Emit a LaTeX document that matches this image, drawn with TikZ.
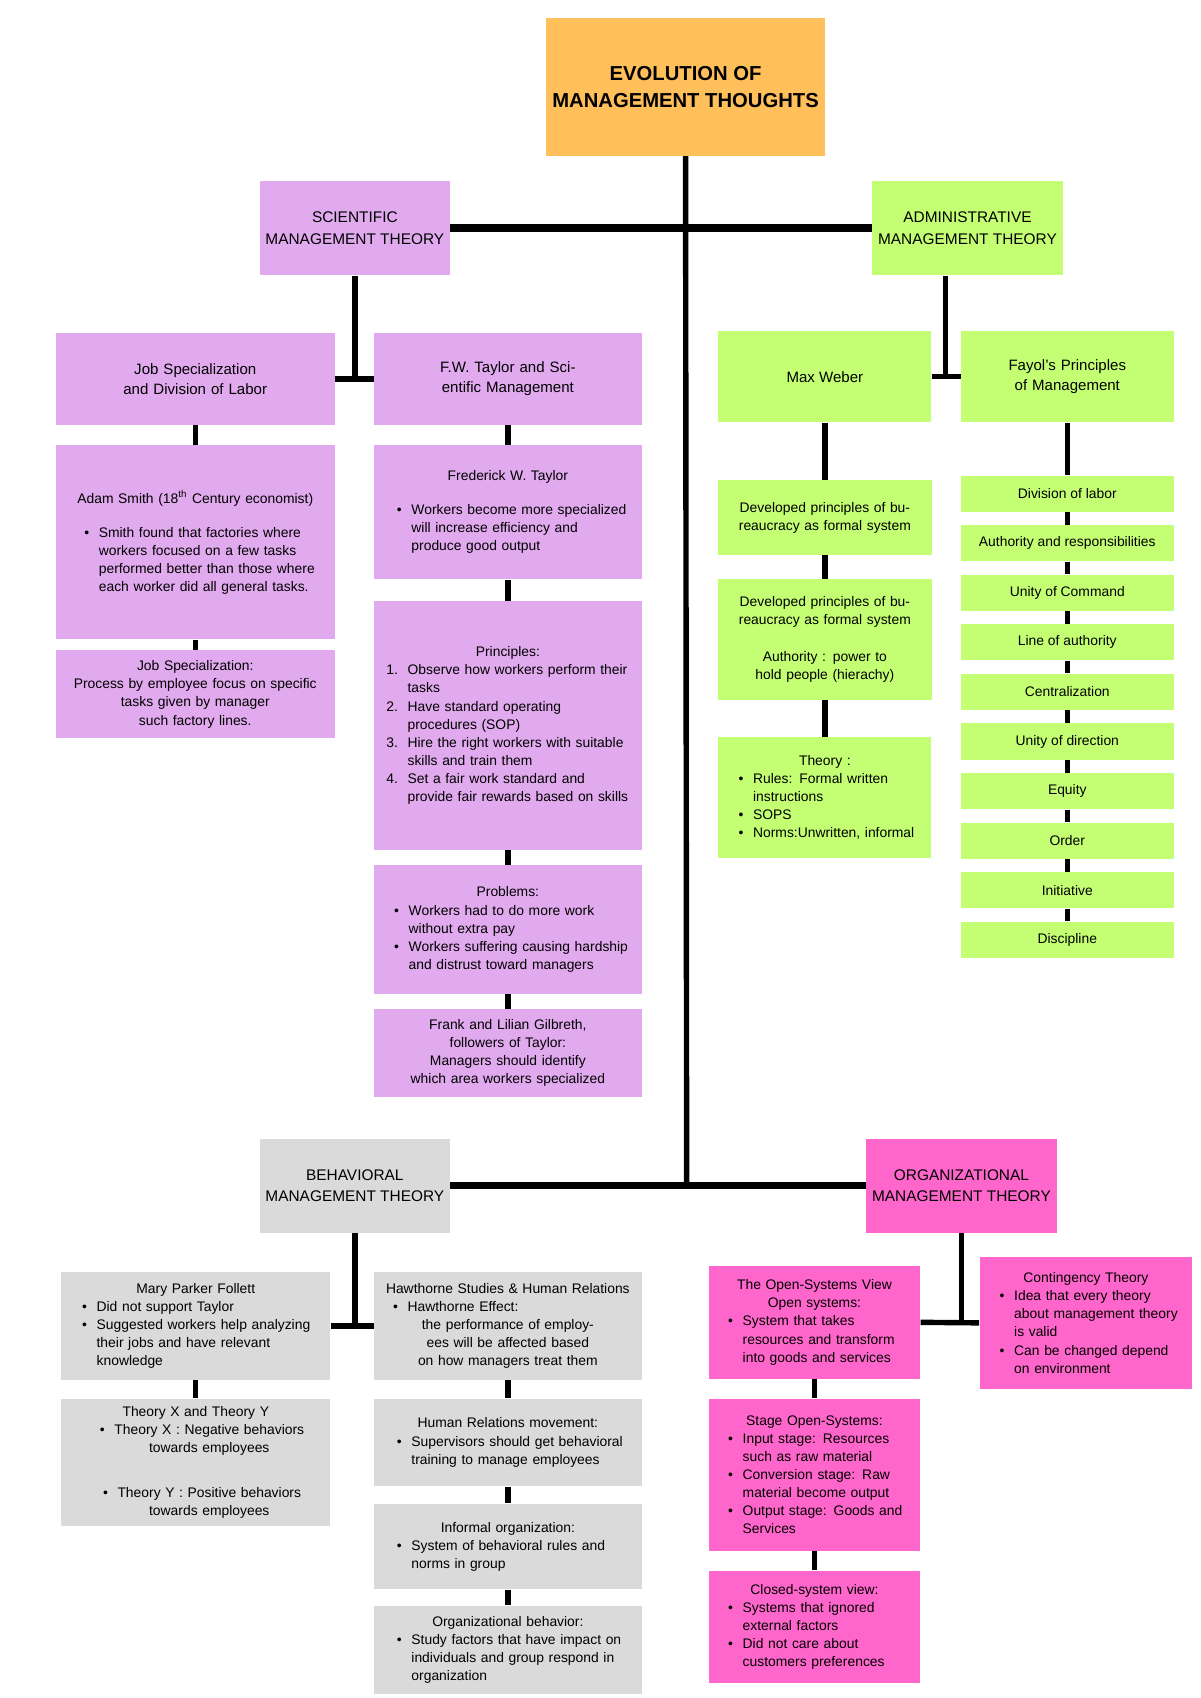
\documentclass[tikz,border=0pt]{standalone}
\usepackage{fontspec}
\setmainfont{Liberation Sans}
\usepackage{enumitem}
\usetikzlibrary{positioning, calc}
\definecolor{TitleOrange}{HTML}{FFBF5A}
\definecolor{SciPink}{HTML}{E2AAEE}
\definecolor{AdmGreen}{HTML}{C4FF73}
\definecolor{BehGrey}{HTML}{DADADA}
\definecolor{OrgPink}{HTML}{FF66CC}
\setlist[itemize]{leftmargin=14pt, nosep, label=\textbullet}
\tikzset{
  box/.style={rectangle, align=center, inner sep=3pt, font=\fontsize{7.2}{9.4}\selectfont},
  conn/.style={line width=2.8pt, black},
  bar/.style={line width=3.8pt, black}
}
\begin{document}
\begin{tikzpicture}[x=0.02cm, y=-0.02cm]
    \useasboundingbox (0,0) rectangle (1094,1548);

    % top
    \node[box, fill=TitleOrange, minimum width=254*0.02cm, minimum height=126*0.02cm,
          font=\fontsize{10.5}{14}\selectfont\bfseries] (title) at (625,79)
          {EVOLUTION OF\\MANAGEMENT THOUGHTS};
    \node[box, fill=SciPink, minimum width=173*0.02cm, minimum height=86*0.02cm,
          font=\fontsize{8}{11}\selectfont] (sci) at (323.5,208) {SCIENTIFIC\\MANAGEMENT THEORY};
    \node[box, fill=AdmGreen, minimum width=172*0.02cm, minimum height=86*0.02cm,
          font=\fontsize{8}{11}\selectfont] (adm) at (882,208) {ADMINISTRATIVE\\MANAGEMENT THEORY};
    \node[box, fill=BehGrey, minimum width=173*0.02cm, minimum height=86*0.02cm,
          font=\fontsize{8}{11}\selectfont] (beh) at (323.5,1081) {BEHAVIORAL\\MANAGEMENT THEORY};
    \node[box, fill=OrgPink, minimum width=173*0.02cm, minimum height=86*0.02cm,
          font=\fontsize{8}{11}\selectfont] (org) at (876.5,1081) {ORGANIZATIONAL\\MANAGEMENT THEORY};

    % scientific
    \node[box, fill=SciPink, minimum width=254*0.02cm, minimum height=83*0.02cm, text width=230*0.02cm,
          font=\fontsize{7.8}{10.5}\selectfont] (job) at (178,345.5) {Job Specialization and Division of Labor};
    \node[box, fill=SciPink, minimum width=244*0.02cm, minimum height=83*0.02cm, text width=200*0.02cm,
          font=\fontsize{7.8}{10.5}\selectfont] (taylor) at (463,345.5) {F.W. Taylor and Scientific Management};
    \node[box, fill=SciPink, minimum width=254*0.02cm, minimum height=177*0.02cm, text width=225*0.02cm] (adam) at (178,494.5)
          {Adam Smith (18\textsuperscript{th} Century economist)\\[8pt]
           \begin{itemize}\raggedright
           \item Smith found that factories where workers focused on a few tasks performed better than those where each worker did all general tasks.
           \end{itemize}\vspace{22pt}};
    \node[box, fill=SciPink, minimum width=254*0.02cm, minimum height=80*0.02cm, text width=240*0.02cm] (jobspec) at (178,633)
          {Job Specialization:\\Process by employee focus on specific\\tasks given by manager\\such factory lines.};
    \node[box, fill=SciPink, minimum width=244*0.02cm, minimum height=122*0.02cm, text width=225*0.02cm] (fred) at (463,467)
          {Frederick W. Taylor\\[8pt]
           \begin{itemize}\raggedright
           \item Workers become more specialized will increase efficiency and produce good output
           \end{itemize}};
    \node[box, fill=SciPink, minimum width=244*0.02cm, minimum height=227*0.02cm, text width=225*0.02cm] (princ) at (463,661.5)
          {Principles:
           \begin{enumerate}[leftmargin=12pt, nosep]\raggedright
           \item Observe how workers perform their tasks
           \item Have standard operating procedures (SOP)
           \item Hire the right workers with suitable skills and train them
           \item Set a fair work standard and provide fair rewards based on skills
           \end{enumerate}};
    \node[box, fill=SciPink, minimum width=244*0.02cm, minimum height=117*0.02cm, text width=230*0.02cm] (prob) at (463,847.5)
          {Problems:
           \begin{itemize}\raggedright
           \item Workers had to do more work without extra pay
           \item Workers suffering causing hardship and distrust toward managers
           \end{itemize}};
    \node[box, fill=SciPink, minimum width=244*0.02cm, minimum height=80*0.02cm, text width=230*0.02cm] (gilb) at (463,960)
          {Frank and Lilian Gilbreth, followers of Taylor:\\Managers should identify which area workers specialized};

    % administrative
    \node[box, fill=AdmGreen, minimum width=194*0.02cm, minimum height=83*0.02cm,
          font=\fontsize{7.8}{10.5}\selectfont] (weber) at (752,343.5) {Max Weber};
    \node[box, fill=AdmGreen, minimum width=194*0.02cm, minimum height=83*0.02cm, text width=170*0.02cm,
          font=\fontsize{7.8}{10.5}\selectfont] (fayol) at (973,343.5) {Fayol's Principles of Management};
    \node[box, fill=AdmGreen, minimum width=194*0.02cm, minimum height=68*0.02cm, text width=185*0.02cm] (web1) at (752,472)
          {Developed principles of bureaucracy as formal system};
    \node[box, fill=AdmGreen, minimum width=194*0.02cm, minimum height=110*0.02cm, text width=185*0.02cm] (web2) at (752,583)
          {Developed principles of bureaucracy as formal system\\[10pt]Authority : power to hold people (hierachy)};
    \node[box, fill=AdmGreen, minimum width=194*0.02cm, minimum height=110*0.02cm, text width=180*0.02cm] (web3) at (752,727)
          {Theory :
           \begin{itemize}\raggedright
           \item Rules: Formal written instructions
           \item SOPS
           \item Norms:Unwritten, informal
           \end{itemize}};
    \foreach \lab/\name [count=\i from 0] in {Division of labor/f1, Authority and responsibilities/f2,
        Unity of Command/f3, Line of authority/f4, Centralization/f5, Unity of direction/f6,
        Equity/f7, Order/f8, Initiative/f9, Discipline/f10}
      \node[box, fill=AdmGreen, minimum width=194*0.02cm, minimum height=33*0.02cm] (\name)
        at (973,{450+\i*45.2}) {\lab};

    % behavioral
    \node[box, fill=BehGrey, minimum width=245*0.02cm, minimum height=98*0.02cm, text width=230*0.02cm] (mary) at (178.5,1209)
          {Mary Parker Follett
           \begin{itemize}\raggedright
           \item Did not support Taylor
           \item Suggested workers help analyzing their jobs and have relevant knowledge
           \end{itemize}};
    \node[box, fill=BehGrey, minimum width=244*0.02cm, minimum height=98*0.02cm, text width=232*0.02cm] (haw) at (463,1209)
          {Hawthorne Studies \& Human Relations
           \begin{itemize}\raggedright
           \item Hawthorne Effect:
           \end{itemize}\raggedright
           the performance of employees will be affected based on how managers treat them};
    \node[box, fill=BehGrey, minimum width=245*0.02cm, minimum height=116*0.02cm, text width=230*0.02cm] (xy) at (178.5,1333)
          {Theory X and Theory Y
           \begin{itemize}
           \item \centering Theory X : Negative behaviors towards employees\par\vspace{14pt}
           \item \centering Theory Y : Positive behaviors towards employees
           \end{itemize}};
    \node[box, fill=BehGrey, minimum width=244*0.02cm, minimum height=80*0.02cm, text width=225*0.02cm] (hr) at (463,1315)
          {Human Relations movement:
           \begin{itemize}\raggedright
           \item Supervisors should get behavioral training to manage employees
           \end{itemize}};
    \node[box, fill=BehGrey, minimum width=244*0.02cm, minimum height=78*0.02cm, text width=225*0.02cm] (inf) at (463,1410)
          {Informal organization:
           \begin{itemize}\raggedright
           \item System of behavioral rules and norms in group
           \end{itemize}};
    \node[box, fill=BehGrey, minimum width=244*0.02cm, minimum height=80*0.02cm, text width=225*0.02cm] (ob) at (463,1504)
          {Organizational behavior:
           \begin{itemize}\raggedright
           \item Study factors that have impact on individuals and group respond in organization
           \end{itemize}};

    % organizational
    \node[box, fill=OrgPink, minimum width=193*0.02cm, minimum height=103*0.02cm, text width=180*0.02cm] (open) at (742.5,1205.5)
          {The Open-Systems View\\Open systems:
           \begin{itemize}\raggedright
           \item System that takes resources and transform into goods and services
           \end{itemize}};
    \node[box, fill=OrgPink, minimum width=194*0.02cm, minimum height=120*0.02cm, text width=180*0.02cm] (cont) at (990,1206)
          {Contingency Theory
           \begin{itemize}\raggedright
           \item Idea that every theory about management theory is valid
           \item Can be changed depend on environment
           \end{itemize}};
    \node[box, fill=OrgPink, minimum width=193*0.02cm, minimum height=139*0.02cm, text width=180*0.02cm] (stage) at (742.5,1344.5)
          {Stage Open-Systems:
           \begin{itemize}\raggedright
           \item Input stage: Resources such as raw material
           \item Conversion stage: Raw material become output
           \item Output stage: Goods and Services
           \end{itemize}};
    \node[box, fill=OrgPink, minimum width=193*0.02cm, minimum height=102*0.02cm, text width=180*0.02cm] (closed) at (742.5,1483)
          {Closed-system view:
           \begin{itemize}\raggedright
           \item Systems that ignored external factors
           \item Did not care about customers preferences
           \end{itemize}};

    % connectors
    \coordinate (trunkend) at (626,1081);
    \draw[conn] (title.south) -- (trunkend);
    \draw[bar] (sci.east) -- (adm.west);
    \draw[bar] (beh.east) -- (org.west);
    \draw[conn] (sci.south) |- (job.east);
    \draw[conn] (job.east) -- (taylor.west);
    \draw[conn] ($(adm.south)+(-20,0)$) |- (weber.east);
    \draw[conn] (weber.east) -- (fayol.west);
    \draw[conn] (beh.south) |- (mary.east);
    \draw[conn] (mary.east) -- (haw.west);
    \draw[conn] (org.south) |- (open.east);
    \draw[conn] (open.east) -- (cont.west);
    \foreach \a/\b in {job/adam, adam/jobspec, taylor/fred, fred/princ, princ/prob, prob/gilb,
        weber/web1, web1/web2, web2/web3, fayol/f1, f1/f2, f2/f3, f3/f4, f4/f5, f5/f6, f6/f7,
        f7/f8, f8/f9, f9/f10, mary/xy, haw/hr, hr/inf, inf/ob, open/stage, stage/closed}
      \draw[conn] (\a.south) -- (\b.north);
\end{tikzpicture}
\end{document}
